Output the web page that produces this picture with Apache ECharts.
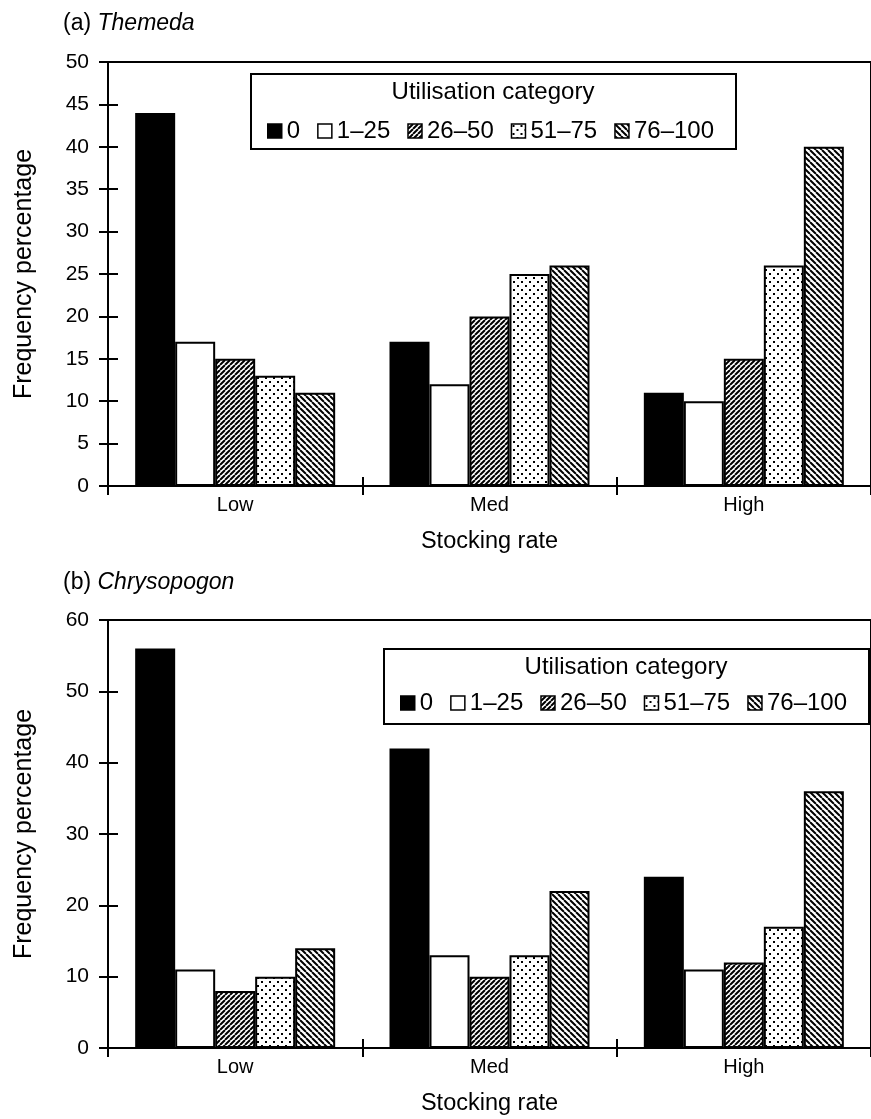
<!DOCTYPE html>
<html><head><meta charset="utf-8">
<script src="https://cdn.jsdelivr.net/npm/echarts@6/dist/echarts.min.js"></script>
<style>html,body{margin:0;padding:0;background:#fff}#c{width:871px;height:1119px}</style>
</head><body><div id="c"></div>
<script>
// ---- data ----
const categories = ['Low', 'Med', 'High'];
const utilNames = ['0', '1–25', '26–50', '51–75', '76–100'];
// (a) Themeda
const themeda_0 = [44, 17, 11];
const themeda_1_25 = [17, 12, 10];
const themeda_26_50 = [15, 20, 15];
const themeda_51_75 = [13, 25, 26];
const themeda_76_100 = [11, 26, 40];
// (b) Chrysopogon
const chryso_0 = [56, 42, 24];
const chryso_1_25 = [11, 13, 11];
const chryso_26_50 = [8, 10, 12];
const chryso_51_75 = [10, 13, 17];
const chryso_76_100 = [14, 22, 36];
const yMaxA = 50, yStepA = 5;
const yMaxB = 60, yStepB = 10;

const FONT = '"Liberation Sans", Arial, Helvetica, sans-serif';

// ---- patterns ----
function hatch(dir, s, lw) {
  const c = document.createElement('canvas'); c.width = s; c.height = s;
  const g = c.getContext('2d');
  g.fillStyle = '#fff'; g.fillRect(0, 0, s, s);
  g.strokeStyle = '#000'; g.lineWidth = lw; g.beginPath();
  for (let k = -s; k <= s; k += s) {
    if (dir > 0) { g.moveTo(k, s); g.lineTo(k + s, 0); }
    else { g.moveTo(k, 0); g.lineTo(k + s, s); }
  }
  g.stroke();
  return { image: c, repeat: 'repeat' };
}
function dots() {
  const c = document.createElement('canvas'); c.width = 8; c.height = 8;
  const g = c.getContext('2d');
  g.fillStyle = '#fff'; g.fillRect(0, 0, 8, 8);
  g.fillStyle = '#000'; g.fillRect(1, 1, 2, 2); g.fillRect(5, 5, 2, 2);
  return { image: c, repeat: 'repeat' };
}
const fills = ['#000', '#fff', hatch(1, 5, 2), dots(), hatch(-1, 6, 2)];

function makeSeries(arrs, gi) {
  return arrs.map((d, i) => ({
    name: utilNames[i], type: 'bar', xAxisIndex: gi, yAxisIndex: gi, data: d,
    barWidth: 40, barGap: '0%',
    itemStyle: { color: fills[i], borderColor: '#000', borderWidth: 2 },
    emphasis: { disabled: true }, animation: false
  }));
}

const grids = [
  { left: 108, top: 62, width: 768, height: 424, show: true, borderColor: '#000', borderWidth: 2 },
  { left: 108, top: 620, width: 768, height: 428, show: true, borderColor: '#000', borderWidth: 2 }
];

function xAx(gi) {
  return {
    gridIndex: gi, type: 'category', data: categories, position: 'bottom', offset: 9,
    axisLine: { show: false, onZero: false },
    axisTick: { show: true, inside: true, length: 18, lineStyle: { color: '#000', width: 2 } },
    axisLabel: { color: '#000', fontSize: 20, fontFamily: FONT, margin: 0 },
    name: 'Stocking rate', nameLocation: 'middle', nameGap: 35,
    nameTextStyle: { color: '#000', fontSize: 23.5, fontFamily: FONT },
    splitLine: { show: false }
  };
}
function yAx(gi, max, step) {
  return {
    gridIndex: gi, type: 'value', min: 0, max: max, interval: step, position: 'left', offset: 9,
    axisLine: { show: false, onZero: false },
    axisTick: { show: true, inside: true, length: 19, lineStyle: { color: '#000', width: 2 } },
    axisLabel: { color: '#000', fontSize: 21, fontFamily: FONT, margin: 10 },
    splitLine: { show: false },
    name: 'Frequency percentage', nameLocation: 'middle', nameGap: 62,
    nameTextStyle: { color: '#000', fontSize: 25, fontFamily: FONT }
  };
}

function legendBox(x, y) {
  return [
    { type: 'rect', left: x, top: y, shape: { width: 485, height: 75 },
      style: { fill: '#fff', stroke: '#000', lineWidth: 2 }, z: 10 },
    { type: 'text', x: x + 243, y: y + 19, z: 11,
      style: { text: 'Utilisation category', fill: '#000', font: '24px ' + FONT, textAlign: 'center', textVerticalAlign: 'middle' } }
  ];
}

function legend(x, y) {
  return {
    left: x, top: y, orient: 'horizontal', data: utilNames, icon: 'rect',
    itemWidth: 14, itemHeight: 14, itemGap: 17, selectedMode: false, z: 12, padding: 0,
    textStyle: { color: '#000', fontSize: 24, fontFamily: FONT },
    itemStyle: { borderColor: '#000', borderWidth: 1.5 }
  };
}

const richT = { n: { fontSize: 23, fontFamily: FONT, color: '#000', fontWeight: 'normal' },
                i: { fontSize: 23, fontFamily: FONT, fontStyle: 'italic', color: '#000', fontWeight: 'normal' } };

const chart = echarts.init(document.getElementById('c'), null, { renderer: 'canvas' });
chart.setOption({
  animation: false,
  backgroundColor: '#fff',
  title: [
    { left: 63, top: 12, padding: 0, text: '{n|(a) }{i|Themeda}', textStyle: { fontWeight: 'normal', rich: richT } },
    { left: 63, top: 571, padding: 0, text: '{n|(b) }{i|Chrysopogon}', textStyle: { fontWeight: 'normal', rich: richT } }
  ],
  grid: grids,
  xAxis: [xAx(0), xAx(1)],
  yAxis: [yAx(0, yMaxA, yStepA), yAx(1, yMaxB, yStepB)],
  legend: [legend(267, 119), legend(400, 691)],
  graphic: [...legendBox(250, 73), ...legendBox(383, 648)],
  series: [
    ...makeSeries([themeda_0, themeda_1_25, themeda_26_50, themeda_51_75, themeda_76_100], 0),
    ...makeSeries([chryso_0, chryso_1_25, chryso_26_50, chryso_51_75, chryso_76_100], 1)
  ]
});
</script></body></html>
